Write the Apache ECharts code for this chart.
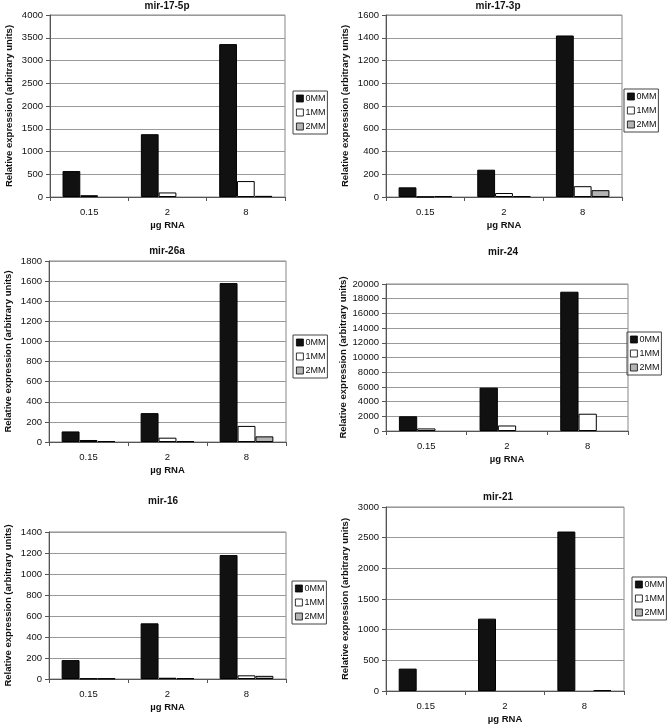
<!DOCTYPE html>
<html><head><meta charset="utf-8">
<script src="https://cdn.jsdelivr.net/npm/echarts@6/dist/echarts.min.js"></script>
<style>html,body{margin:0;padding:0;background:#fff}#c{width:671px;height:727px}</style>
</head><body><div id="c"></div>
<script>
const categories = ['0.15', '2', '8'];
const seriesNames = ['0MM', '1MM', '2MM'];
const titles = ['mir-17-5p', 'mir-17-3p', 'mir-26a', 'mir-24', 'mir-16', 'mir-21'];

const mir17_5p_0MM = [570, 1380, 3360];
const mir17_5p_1MM = [40, 100, 350];
const mir17_5p_2MM = [0, 0, 25];

const mir17_3p_0MM = [85, 240, 1420];
const mir17_3p_1MM = [2, 35, 95];
const mir17_3p_2MM = [8, 8, 60];

const mir26a_0MM = [105, 287, 1580];
const mir26a_1MM = [20, 43, 160];
const mir26a_2MM = [10, 8, 56];

const mir24_0MM = [2000, 5900, 18950];
const mir24_1MM = [350, 750, 2350];
const mir24_2MM = [0, 0, 0];

const mir16_0MM = [180, 530, 1180];
const mir16_1MM = [5, 12, 35];
const mir16_2MM = [5, 8, 30];

const mir21_0MM = [365, 1180, 2600];
const mir21_1MM = [0, 0, 0];
const mir21_2MM = [0, 0, 15];

const yMax = [4000, 1600, 1800, 20000, 1400, 3000];
const yInterval = [500, 200, 200, 2000, 200, 500];

const panelData = [
  [mir17_5p_0MM, mir17_5p_1MM, mir17_5p_2MM],
  [mir17_3p_0MM, mir17_3p_1MM, mir17_3p_2MM],
  [mir26a_0MM, mir26a_1MM, mir26a_2MM],
  [mir24_0MM, mir24_1MM, mir24_2MM],
  [mir16_0MM, mir16_1MM, mir16_2MM],
  [mir21_0MM, mir21_1MM, mir21_2MM]
];

// layout (pixels)
const grids = [
  {left: 50, top: 15, width: 235, height: 182},
  {left: 386, top: 15, width: 236, height: 182},
  {left: 49, top: 261, width: 237, height: 181},
  {left: 386, top: 284, width: 242, height: 147},
  {left: 49, top: 532, width: 237, height: 147},
  {left: 386, top: 507, width: 238, height: 184}
];
const titlePos = [[167, 1], [498, 1], [167, 246], [503, 247], [163, 496], [498, 492]];
const legendPos = [[293, 91], [624, 89], [293, 335], [627, 332], [292, 581], [632, 577]];
const colors = ['#111111', '#ffffff', '#b4b4b4'];
const FONT = 'Liberation Sans, Arial, sans-serif';

const option = {
  backgroundColor: '#fff',
  animation: false,
  title: [], grid: [], xAxis: [], yAxis: [], legend: [], series: []
};

for (let i = 0; i < 6; i++) {
  option.title.push({
    text: titles[i], left: titlePos[i][0], top: titlePos[i][1], textAlign: 'center', padding: 0,
    textStyle: {fontFamily: FONT, fontSize: 10, fontWeight: 'bold', color: '#111'}
  });
  option.grid.push(Object.assign({show: true, borderColor: '#888', borderWidth: 1, backgroundColor: '#fff', containLabel: false}, grids[i]));
  option.xAxis.push({
    type: 'category', gridIndex: i, data: categories,
    name: 'µg RNA', nameLocation: 'middle', nameGap: 23,
    nameTextStyle: {fontFamily: FONT, fontSize: 9.5, fontWeight: 'bold', color: '#111'},
    axisLine: {lineStyle: {color: '#555', width: 1}},
    axisTick: {show: true, length: 4, lineStyle: {color: '#555'}},
    axisLabel: {fontFamily: FONT, fontSize: 9.5, color: '#111', margin: 10}
  });
  option.yAxis.push({
    type: 'value', gridIndex: i, min: 0, max: yMax[i], interval: yInterval[i],
    name: 'Relative expression (arbitrary units)', nameLocation: 'middle', nameGap: 36,
    nameTextStyle: {fontFamily: FONT, fontSize: 9.5, fontWeight: 'bold', color: '#111'},
    axisLine: {show: true, lineStyle: {color: '#555', width: 1}},
    axisTick: {show: true, length: 4, lineStyle: {color: '#555'}},
    axisLabel: {fontFamily: FONT, fontSize: 9.5, color: '#111', margin: 7, formatter: v => String(v)},
    splitLine: {show: true, lineStyle: {color: '#999', width: 1}}
  });
  option.legend.push({
    orient: 'vertical', left: legendPos[i][0], top: legendPos[i][1],
    data: seriesNames, itemWidth: 7, itemHeight: 7, itemGap: 5,
    borderColor: '#444', borderWidth: 1, padding: [3, 2, 3, 3], icon: 'rect',
    itemStyle: {borderWidth: 0.8},
    textStyle: {fontFamily: FONT, fontSize: 9, color: '#111', padding: [0, 0, 0, -3]},
    selectedMode: false
  });
  for (let s = 0; s < 3; s++) {
    option.series.push({
      type: 'bar', name: seriesNames[s], xAxisIndex: i, yAxisIndex: i,
      data: panelData[i][s].map(v => v === 0 ? {value: v, itemStyle: {borderWidth: 0}} : v),
      barGap: '0%', barCategoryGap: '32%',
      itemStyle: {color: colors[s], borderColor: '#000', borderWidth: 1},
      silent: true
    });
  }
}

const chart = echarts.init(document.getElementById('c'), null, {renderer: 'canvas'});
chart.setOption(option);
</script>
</body></html>
